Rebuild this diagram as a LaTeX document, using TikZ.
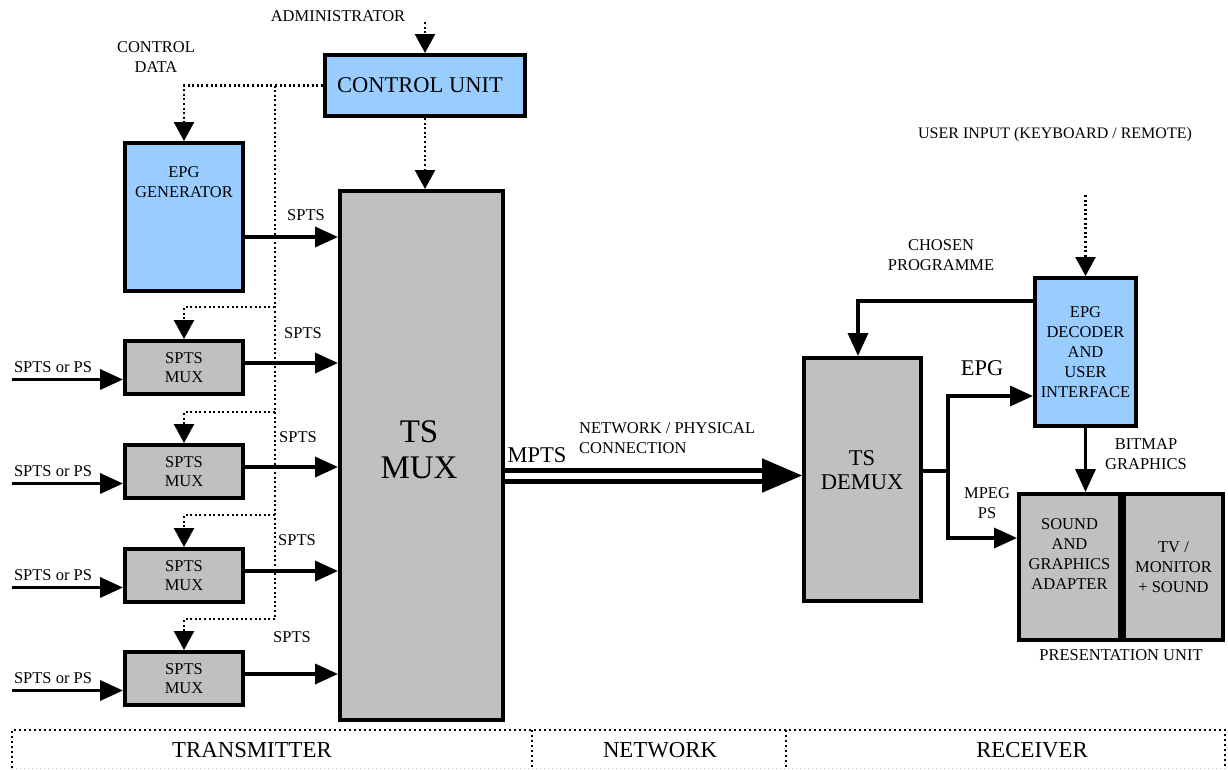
\documentclass[tikz,border=0pt]{standalone}
\usepackage{fontspec}
\setmainfont{Liberation Serif}
\usetikzlibrary{arrows.meta,calc}
\definecolor{boxblue}{HTML}{99CCFF}
\definecolor{boxgrey}{HTML}{C0C0C0}
\definecolor{faintgrey}{HTML}{C8C8C8}

\begin{document}
\begin{tikzpicture}[x=1pt,y=-1pt,
  blk/.style={draw=black, line width=4pt, inner sep=0pt, align=center},
  bluebox/.style={blk, fill=boxblue},
  greybox/.style={blk, fill=boxgrey},
  lbl/.style={font=\fontsize{16.5}{20}\selectfont, align=center, inner sep=0pt},
  biglbl/.style={font=\fontsize{22.5}{24}\selectfont, align=center, inner sep=0pt},
  flow/.style={line width=3.5pt, -{Triangle[length=23pt,width=20pt]}},
  ctrlline/.style={line width=2.5pt, dash pattern=on 2pt off 2.6pt},
  ctrl/.style={ctrlline, -{Triangle[length=19pt,width=20pt]}},
  band/.style={line width=2.5pt, dash pattern=on 2pt off 3pt},
  bandfaint/.style={line width=1pt, draw=faintgrey, dash pattern=on 1pt off 3pt},
]
\useasboundingbox (0,0) rectangle (1228,769);

% ---------------- transmitter ----------------
\node[bluebox, minimum width=200pt, minimum height=61pt] (cu) at (425,85.5) {};
\node[font=\fontsize{22.5}{26}\selectfont, inner sep=0pt] (cutext) at (420,85.5) {CONTROL UNIT};

\node[bluebox, minimum width=118pt, minimum height=148pt] (epg) at (184,217) {};
\node[lbl] (epgtext) at (184,182) {EPG\\GENERATOR};

\node[greybox, minimum width=163pt, minimum height=529pt] (tsmux) at (421.5,455.5) {};
\node[font=\fontsize{33}{36}\selectfont, align=center, inner sep=0pt] (tsmuxtext) at (419,450) {TS\\MUX};

\foreach \i/\y in {1/367.5,2/471.5,3/575.5,4/678.5}{
  \node[greybox, font=\fontsize{16.5}{19}\selectfont, minimum width=118pt, minimum height=53pt]
    (mux\i) at (184,\y) {SPTS\\MUX};
  \coordinate (in\i) at (12,\y+12);
  \draw[flow] (in\i) -- (in\i -| mux\i.west);
  \node[lbl] (inlbl\i) at (53,\y) {SPTS or PS};
  \draw[flow] ([yshift=4.5pt]mux\i.east) -- ([yshift=4.5pt]mux\i.east -| tsmux.west);
}
\foreach \i/\x/\y in {1/303/333,2/298/437,3/297/540,4/292/637}
  \node[lbl] (spts\i) at (\x,\y) {SPTS};

\draw[flow] (epg.east |- 0,237) -- (tsmux.west |- 0,237);
\node[lbl] (sptsepg) at (306,215) {SPTS};

% control data distribution
\coordinate (bus) at (275,85.5);
\draw[ctrl] (cu.west) -| (epg.north);
\draw[ctrlline] (bus) -- (275,619);
\foreach \i/\y in {1/307,2/412,3/515,4/619}{
  \coordinate (tap\i) at (275,\y);
  \draw[ctrl] (tap\i) -| (mux\i.north);
}
\coordinate (adm) at (cu.north |- 0,22);
\draw[ctrl] (adm) -- (cu.north);
\draw[ctrl] (cu.south) -- (cu.south |- tsmux.north);
\node[lbl] (admlbl) at (338,16) {ADMINISTRATOR};
\node[lbl] (ctrldata) at (156,57) {CONTROL\\DATA};

% ---------------- receiver ----------------
\node[greybox, minimum width=117pt, minimum height=243pt] (demux) at (862.5,479.5) {};
\node[biglbl] (demuxtext) at (862,470) {TS\\DEMUX};

\node[bluebox, font=\fontsize{16.5}{20}\selectfont, minimum width=101pt, minimum height=148pt]
  (epgd) at (1085.5,352) {EPG\\DECODER\\AND\\USER\\INTERFACE};

\node[greybox, minimum width=99pt, minimum height=146pt,
      font=\fontsize{16.5}{20}\selectfont] (tvm) at (1173.5,567) {TV /\\MONITOR\\+ SOUND};
\node[greybox, minimum width=101pt, minimum height=146pt] (sga) at (1069.5,567) {};
\node[lbl] (sgatext) at (1069.5,554.5) {SOUND\\AND\\GRAPHICS\\ADAPTER};
\node[lbl] (presl) at (1121,655) {PRESENTATION UNIT};

% network link
\coordinate (mA) at (tsmux.east |- 0,475.5);
\coordinate (mB) at (demux.west |- 0,475.5);
\draw[line width=5pt, double=white, double distance=6pt] (mA) -- ($(mB)+(-38,0)$);
\draw[line width=2pt, -{Triangle[length=40pt,width=34pt]}] ($(mB)+(-39,0)$) -- (mB);
\node[biglbl] (mpts) at (537,455) {MPTS};
\node[lbl, align=left, anchor=west] (netlbl) at (579,438) {NETWORK / PHYSICAL\\CONNECTION};

% receiver connections
\draw[flow] (epgd.west |- 0,301) -| (demux.north -| 858,0);
\node[lbl] (chosen) at (941,255) {CHOSEN\\PROGRAMME};
\coordinate (usr) at (epgd.north |- 0,195);
\draw[ctrl] (usr) -- (epgd.north);
\node[font=\fontsize{16}{20}\selectfont, inner sep=0pt] (usrlbl) at (1055,135) {USER INPUT (KEYBOARD / REMOTE)};

\coordinate (split) at (948,471);
\draw[flow] (demux.east |- split) -- (split) |- (epgd.west |- 0,396);
\draw[flow] (split) |- (sga.west |- 0,538);
\node[biglbl] (epglbl) at (982,368) {EPG};
\node[lbl] (mpeglbl) at (987,503.5) {MPEG\\PS};

\draw[flow] (epgd.south) -- (epgd.south |- sga.north);
\node[lbl] (bitmap) at (1146,454) {BITMAP\\GRAPHICS};

% ---------------- section band ----------------
\coordinate (bTL) at (12,730);
\coordinate (bTR) at (1225,730);
\coordinate (bBL) at (12,768);
\coordinate (bBR) at (1225,768);
\draw[band] (bBL) -- (bTL) -- (bTR) -- (bBR);
\draw[band] (532,730) -- (532,768);
\draw[band] (786,730) -- (786,768);
\draw[bandfaint] (bBL) -- (bBR);
\node[font=\fontsize{22.8}{24}\selectfont, inner sep=0pt] (tx) at (252,750.5) {TRANSMITTER};
\node[font=\fontsize{22.8}{24}\selectfont, inner sep=0pt] (nw) at (660,750.5) {NETWORK};
\node[font=\fontsize{22.8}{24}\selectfont, inner sep=0pt] (rx) at (1032,750.5) {RECEIVER};
\end{tikzpicture}
\end{document}
